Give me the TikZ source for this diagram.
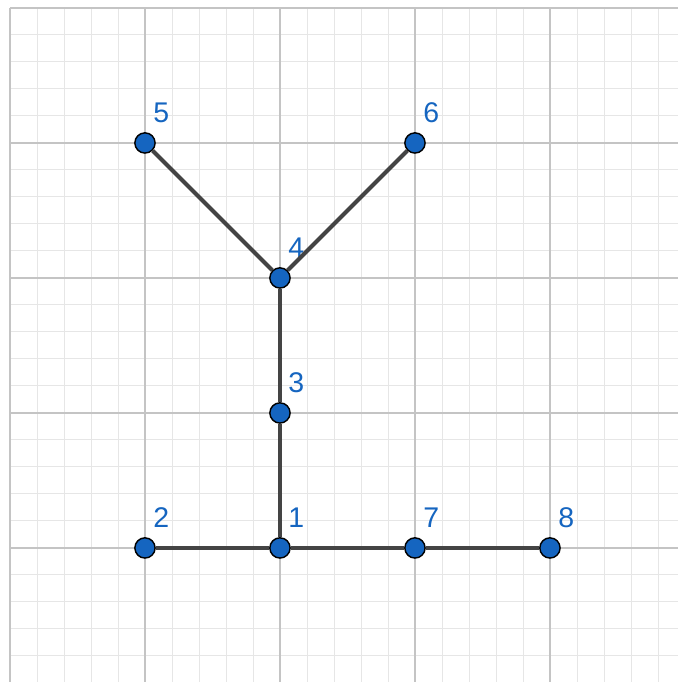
\documentclass[tikz,border=0pt]{standalone}
\usepackage{fontspec}
\setsansfont{Liberation Sans}
\usepackage{xcolor}
\usepackage{tikz}
\usetikzlibrary{calc, backgrounds}

\definecolor{ggblue}{HTML}{1565C0}
\definecolor{ggline}{HTML}{444444}
\definecolor{majorgrid}{HTML}{C4C4C4}
\definecolor{minorgrid}{HTML}{E6E6E6}

\begin{document}
\begin{tikzpicture}[
    x=2cm, y=2cm,
    vertex/.style={draw=black, line width=0.6pt, circle, fill=ggblue,
      minimum size=0.3cm, inner sep=0pt},
    lbl/.style={text=ggblue, font=\sffamily\fontsize{12}{12}\selectfont, inner sep=0pt},
    edge/.style={ggline, line width=1.7pt},
    minorline/.style={minorgrid, line width=0.4pt},
    majorline/.style={majorgrid, line width=0.8pt}
]
\useasboundingbox (-2.074,-0.993) rectangle (2.948,4.059);

% vertices
\node[vertex] (v1) at (0,0) {};
\node[vertex] (v2) at (-1,0) {};
\node[vertex] (v3) at (0,1) {};
\node[vertex] (v4) at (0,2) {};
\node[vertex] (v5) at (-1,3) {};
\node[vertex] (v6) at (1,3) {};
\node[vertex] (v7) at (1,0) {};
\node[vertex] (v8) at (2,0) {};

% labels
\node[lbl] (l1) at ($(v1)+(0.12,0.225)$) {1};
\node[lbl] (l2) at ($(v2)+(0.12,0.225)$) {2};
\node[lbl] (l3) at ($(v3)+(0.12,0.225)$) {3};
\node[lbl] (l4) at ($(v4)+(0.12,0.225)$) {4};
\node[lbl] (l5) at ($(v5)+(0.12,0.225)$) {5};
\node[lbl] (l6) at ($(v6)+(0.12,0.225)$) {6};
\node[lbl] (l7) at ($(v7)+(0.12,0.225)$) {7};
\node[lbl] (l8) at ($(v8)+(0.12,0.225)$) {8};

% edges
\draw[edge] (v2) -- (v1);
\draw[edge] (v1) -- (v7);
\draw[edge] (v7) -- (v8);
\draw[edge] (v1) -- (v3);
\draw[edge] (v3) -- (v4);
\draw[edge] (v4) -- (v5);
\draw[edge] (v4) -- (v6);

% grid
\begin{scope}[on background layer]
\draw[minorline] (-2,-0.993) grid[step=0.2] (2.948,4);
\draw[majorline] (-2,-0.993) grid[step=1] (2.948,4);
\end{scope}
\end{tikzpicture}
\end{document}
